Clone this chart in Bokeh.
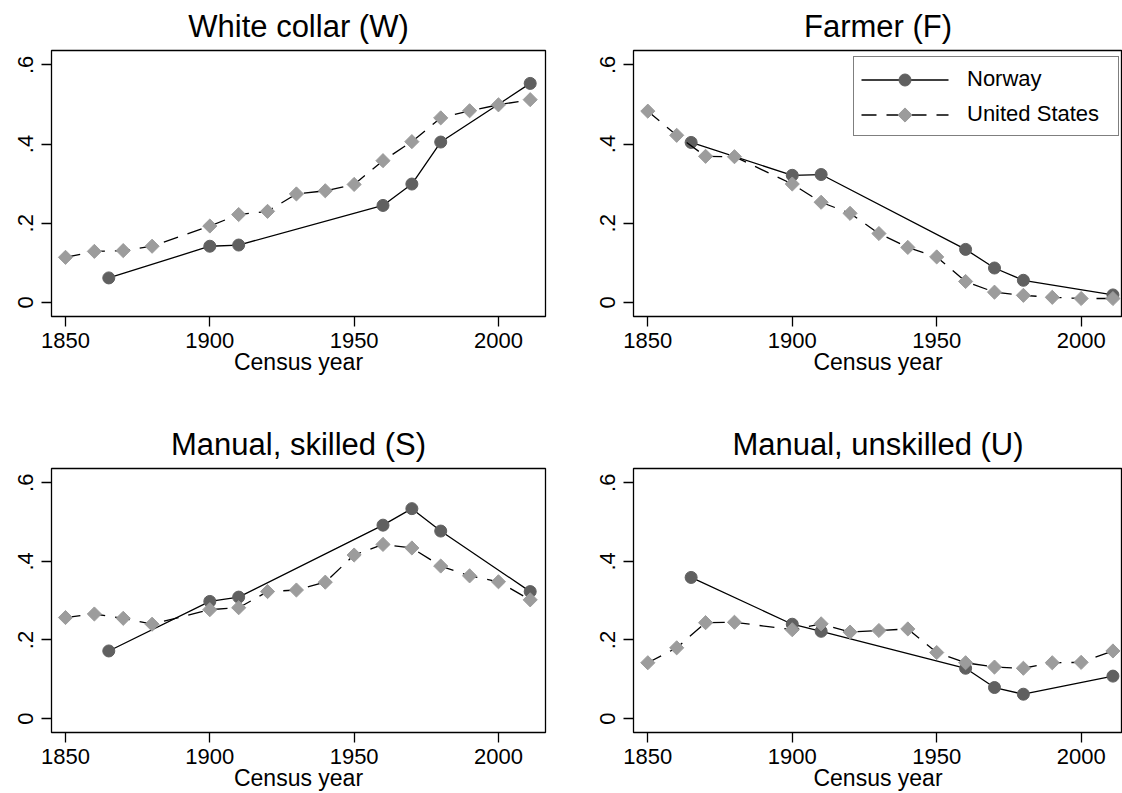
import numpy as np
from bokeh.plotting import figure
from bokeh.models import Range1d, FixedTicker, Legend, LegendItem, CustomJSTickFormatter
from bokeh.layouts import row, column
from bokeh.embed import file_html
from bokeh.resources import INLINE

# ---------------- data ----------------
norway_years = [1865, 1900, 1910, 1960, 1970, 1980, 2011]
us_years = [1850, 1860, 1870, 1880, 1900, 1910, 1920, 1930, 1940, 1950,
            1960, 1970, 1980, 1990, 2000, 2011]

norway_white_collar = [0.062, 0.142, 0.145, 0.245, 0.299, 0.405, 0.553]
us_white_collar = [0.114, 0.129, 0.131, 0.142, 0.193, 0.222, 0.230, 0.274,
                   0.282, 0.298, 0.358, 0.406, 0.466, 0.484, 0.499, 0.512]

norway_farmer = [0.404, 0.321, 0.323, 0.134, 0.087, 0.056, 0.019]
us_farmer = [0.483, 0.422, 0.369, 0.368, 0.299, 0.253, 0.225, 0.174,
             0.139, 0.115, 0.053, 0.026, 0.018, 0.013, 0.010, 0.010]

norway_skilled = [0.172, 0.298, 0.309, 0.492, 0.534, 0.477, 0.323]
us_skilled = [0.257, 0.266, 0.255, 0.240, 0.277, 0.282, 0.323, 0.327,
              0.347, 0.416, 0.443, 0.434, 0.388, 0.363, 0.348, 0.302]

norway_unskilled = [0.359, 0.240, 0.222, 0.128, 0.079, 0.062, 0.108]
us_unskilled = [0.142, 0.180, 0.244, 0.245, 0.226, 0.241, 0.220, 0.224,
                0.228, 0.168, 0.142, 0.131, 0.128, 0.142, 0.143, 0.172]

panel_titles = ["White collar (W)", "Farmer (F)", "Manual, skilled (S)", "Manual, unskilled (U)"]
x_ticks = [1850, 1900, 1950, 2000]
y_ticks = [0, 0.2, 0.4, 0.6]
series_names = ["Norway", "United States"]
x_title = "Census year"

FONT = "Liberation Sans"
NOR_COLOR = "#606060"
US_COLOR = "#9c9c9c"
CIRCLE_SIZE = 12
DIAMOND_SIDE = 10
US_DASH = "15 10"

Y0, Y1 = -0.0354, 0.6361
LX0, LX1 = 1845.15, 2016.3
RX0, RX1 = 1845.05, 2014.31

# legend layout (screen px, relative to the frame's bottom-left corner)
LEG_X, LEG_Y = 220, 180
LEG_PAD, LEG_SPACING = 8, 8
GLYPH_W, GLYPH_H = 87, 27
LABEL_STANDOFF, LABEL_W = 18, 143


def style_panel(p, title):
    p.outline_line_color = "black"
    p.outline_line_width = 1.3
    p.xgrid.grid_line_color = None
    p.ygrid.grid_line_color = None

    p.title.text = title
    p.title.text_font = FONT
    p.title.text_font_size = "31px"
    p.title.text_font_style = "normal"
    p.title.text_color = "black"
    p.title.align = "center"
    p.title.standoff = 13

    p.xaxis.ticker = FixedTicker(ticks=x_ticks)
    p.yaxis.ticker = FixedTicker(ticks=y_ticks)
    p.yaxis.formatter = CustomJSTickFormatter(
        code="return tick == 0 ? '0' : tick.toFixed(1).replace(/^0/, '');")
    for ax in (p.xaxis[0], p.yaxis[0]):
        ax.axis_line_color = None
        ax.major_tick_line_color = "black"
        ax.major_tick_line_width = 1.3
        ax.major_tick_out = 10
        ax.major_tick_in = 0
        ax.minor_tick_line_color = None
        ax.major_label_text_font = FONT
        ax.major_label_text_font_size = "22px"
        ax.major_label_text_color = "black"
    p.xaxis.major_label_standoff = 6
    p.yaxis.major_label_standoff = 8
    p.yaxis.major_label_orientation = "parallel"
    p.xaxis.axis_label = x_title
    p.xaxis.axis_label_text_font = FONT
    p.xaxis.axis_label_text_font_size = "23px"
    p.xaxis.axis_label_text_font_style = "normal"
    p.xaxis.axis_label_text_color = "black"
    p.xaxis.axis_label_standoff = -2


def make_panel(title, nor, us, width, height, mb_left, mb_right, mb_top, mb_bottom,
               x_start, x_end, legend=False):
    p = figure(width=width, height=height, output_backend="svg", toolbar_location=None,
               x_range=Range1d(x_start, x_end), y_range=Range1d(Y0, Y1),
               min_border_left=mb_left, min_border_right=mb_right,
               min_border_top=mb_top, min_border_bottom=mb_bottom,
               background_fill_color="white", border_fill_color="white")
    style_panel(p, title)

    p.line(norway_years, nor, line_color="black", line_width=1.3)
    p.scatter(norway_years, nor, marker="circle", size=CIRCLE_SIZE,
              fill_color=NOR_COLOR, line_color=NOR_COLOR)
    p.line(us_years, us, line_color="black", line_width=1.3, line_dash=US_DASH)
    p.scatter(us_years, us, marker="square", angle=np.pi / 4, size=DIAMOND_SIDE,
              fill_color=US_COLOR, line_color=US_COLOR)

    if legend:
        # invisible stand-ins: the legend itself only draws its frame and labels
        d1 = p.line([], [], line_alpha=0)
        d2 = p.line([], [], line_alpha=0)
        lg = Legend(items=[LegendItem(label=series_names[0], renderers=[d1]),
                           LegendItem(label=series_names[1], renderers=[d2])],
                    location=(LEG_X, LEG_Y), glyph_width=GLYPH_W, glyph_height=GLYPH_H,
                    label_standoff=LABEL_STANDOFF, padding=LEG_PAD, spacing=LEG_SPACING,
                    label_width=LABEL_W, label_height=GLYPH_H,
                    label_text_font=FONT, label_text_font_size="22px",
                    label_text_color="black", label_text_baseline="middle",
                    border_line_color="black", border_line_width=1.2,
                    background_fill_alpha=0.0, margin=0)
        p.add_layout(lg)

        # legend symbols (line + marker), placed from the legend layout values
        frame_w = width - mb_left - mb_right
        frame_h = height - mb_top - mb_bottom
        px_x = frame_w / (x_end - x_start)
        px_y = frame_h / (Y1 - Y0)
        box_h = 2 * LEG_PAD + 2 * GLYPH_H + LEG_SPACING
        gx0 = LEG_X + LEG_PAD
        gx1 = gx0 + GLYPH_W
        gxc = (gx0 + gx1) / 2.0
        cy1 = LEG_Y + box_h - LEG_PAD - GLYPH_H / 2.0
        cy2 = LEG_Y + LEG_PAD + GLYPH_H / 2.0

        def dx(s):
            return x_start + s / px_x

        def dy(s):
            return Y0 + s / px_y

        p.line([dx(gx0), dx(gx1)], [dy(cy1), dy(cy1)], line_color="black", line_width=1.3)
        p.scatter([dx(gxc)], [dy(cy1)], marker="circle", size=CIRCLE_SIZE,
                  fill_color=NOR_COLOR, line_color=NOR_COLOR)
        p.line([dx(gx0), dx(gx1)], [dy(cy2), dy(cy2)], line_color="black", line_width=1.3,
               line_dash=US_DASH)
        p.scatter([dx(gxc)], [dy(cy2)], marker="square", angle=np.pi / 4,
                  size=DIAMOND_SIDE, fill_color=US_COLOR, line_color=US_COLOR)
    return p


p1 = make_panel(panel_titles[0], norway_white_collar, us_white_collar,
                588, 400, 51, 43, 50, 84, LX0, LX1)
p2 = make_panel(panel_titles[1], norway_farmer, us_farmer,
                534, 400, 45, 0, 50, 84, RX0, RX1, legend=True)
p3 = make_panel(panel_titles[2], norway_skilled, us_skilled,
                588, 393, 51, 43, 68, 59, LX0, LX1)
p4 = make_panel(panel_titles[3], norway_unskilled, us_unskilled,
                534, 393, 45, 0, 68, 59, RX0, RX1)

layout = column(row(p1, p2), row(p3, p4))

open("out.html", "w").write(file_html(layout, INLINE))
